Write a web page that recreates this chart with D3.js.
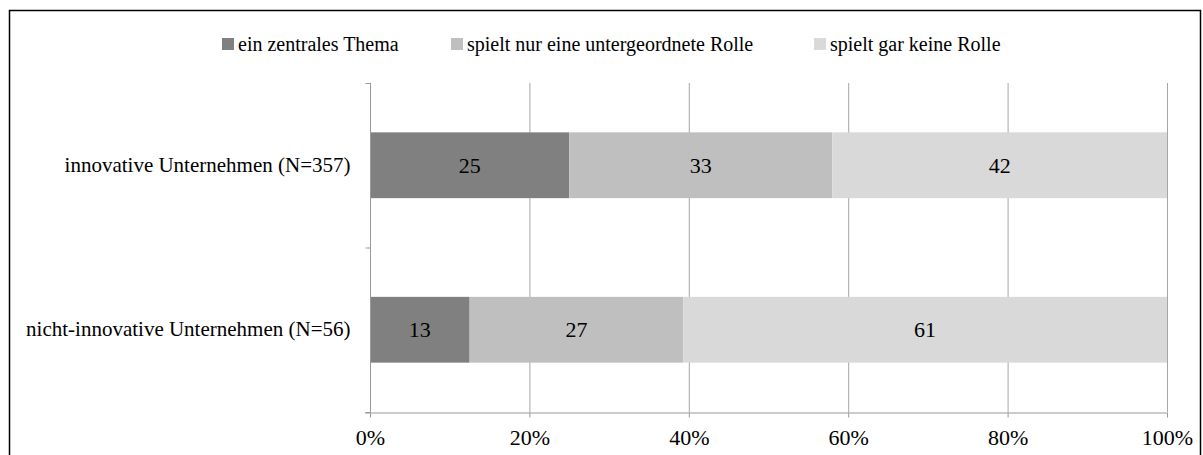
<!DOCTYPE html>
<html>
<head>
<meta charset="utf-8">
<script src="https://cdn.jsdelivr.net/npm/d3@7"></script>
<style>
html,body{margin:0;padding:0;background:#fff;}
svg{display:block;}
</style>
</head>
<body>
<svg id="chart" width="1203" height="455" font-family="Liberation Serif"></svg>
<script>
const categories = ["innovative Unternehmen (N=357)", "nicht-innovative Unternehmen (N=56)"];
const seriesNames = ["ein zentrales Thema", "spielt nur eine untergeordnete Rolle", "spielt gar keine Rolle"];
const zentral = [25, 12.5];
const untergeordnet = [33, 26.8];
const keine = [42, 60.7];
const xTicks = [0, 20, 40, 60, 80, 100];
const colors = ["#808080", "#bfbfbf", "#d9d9d9"];
const FONT = "Liberation Serif";

const svg = d3.select("#chart");

// outer frame
svg.append("rect").attr("x", 9.5).attr("y", 10.5).attr("width", 1191).attr("height", 460)
  .attr("fill", "none").attr("stroke", "#000").attr("stroke-width", 1.5);

const x = d3.scaleLinear().domain([0, 100]).range([370, 1167]);
const y = d3.scaleBand().domain(categories).range([83, 412]).paddingInner(0.6).paddingOuter(0.3);

const rows = categories.map((c, i) => ({cat: c, zentral: zentral[i], untergeordnet: untergeordnet[i], keine: keine[i]}));
const keys = ["zentral", "untergeordnet", "keine"];
const stack = d3.stack().keys(keys)(rows);

// gridlines
svg.append("g").selectAll("line").data(xTicks.slice(1)).join("line")
  .attr("x1", d => x(d) + 0.5).attr("x2", d => x(d) + 0.5)
  .attr("y1", 83).attr("y2", 412)
  .attr("stroke", "#a6a6a6").attr("stroke-width", 1);

// bars
const groups = svg.append("g").selectAll("g").data(stack).join("g")
  .attr("fill", (d, i) => colors[i]);
groups.selectAll("rect").data(d => d).join("rect")
  .attr("x", d => x(d[0]))
  .attr("width", d => x(d[1]) - x(d[0]))
  .attr("y", d => y(d.data.cat))
  .attr("height", y.bandwidth());

// value labels
groups.selectAll("text").data(d => d).join("text")
  .attr("x", d => (x(d[0]) + x(d[1])) / 2)
  .attr("y", d => y(d.data.cat) + y.bandwidth() / 2)
  .attr("text-anchor", "middle").attr("dominant-baseline", "central")
  .attr("font-family", FONT).attr("font-size", 22).attr("fill", "#000")
  .text(d => d3.format(".0f")(d[1] - d[0]));

// x axis
const xAxis = svg.append("g").attr("transform", "translate(0,412.5)")
  .call(d3.axisBottom(x).tickValues(xTicks).tickFormat(d => d + "%").tickSizeOuter(0).tickSize(5).tickPadding(12));
xAxis.attr("font-family", FONT).attr("font-size", 22);
xAxis.select(".domain").attr("stroke", "#999").attr("d", "M365,0.5H1167");
xAxis.selectAll(".tick line").attr("stroke", "#999");
xAxis.selectAll(".tick text").attr("fill", "#000");

// y axis
const yAxis = svg.append("g").attr("transform", "translate(370.5,0)")
  .call(d3.axisLeft(y).tickSize(0).tickPadding(20));
yAxis.attr("font-family", FONT).attr("font-size", 21);
yAxis.select(".domain").attr("stroke", "#999").attr("d", "M0,83V412");
yAxis.selectAll(".tick text").attr("fill", "#000");
// category boundary ticks
const bounds = [83, (y(categories[0]) + y.bandwidth() + y(categories[1])) / 2, 412];
yAxis.append("g").selectAll("line").data(bounds).join("line")
  .attr("x1", -5).attr("x2", 0).attr("y1", d => d + 0.5).attr("y2", d => d + 0.5)
  .attr("stroke", "#999");

// legend
const legendX = [222, 451, 814];
const lg = svg.append("g").selectAll("g").data(seriesNames).join("g")
  .attr("transform", (d, i) => `translate(${legendX[i]},38)`);
lg.append("rect").attr("width", 12).attr("height", 12).attr("fill", (d, i) => colors[i]);
lg.append("text").attr("x", 16).attr("y", 6).attr("dominant-baseline", "central")
  .attr("font-family", FONT).attr("font-size", 20).attr("fill", "#000").text(d => d);
</script>
</body>
</html>
